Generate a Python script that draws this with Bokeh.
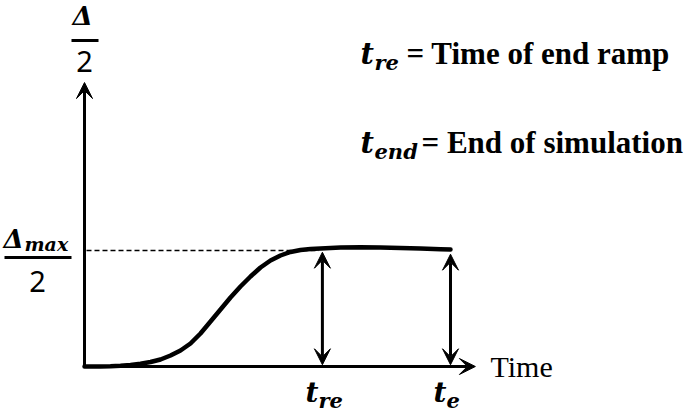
from bokeh.plotting import figure
from bokeh.models import Range1d, Arrow, VeeHead, Label
from bokeh.embed import file_html
from bokeh.resources import INLINE

# ---- data (time normalised so t_e = 1, response normalised so Δmax/2 = 1) ----
curve_t = [0.0, 0.0437, 0.0710, 0.0984, 0.1257, 0.1530, 0.1803, 0.2077, 0.2350,
           0.2623, 0.2896, 0.3169, 0.3443, 0.3716, 0.3989, 0.4262, 0.4536, 0.4809,
           0.5082, 0.5355, 0.5628, 0.5902, 0.6175, 0.6448, 0.6995, 0.7541, 0.8087,
           0.8634, 0.9180, 0.9727, 1.0]
curve_v = [0.0, 0.0, 0.0017, 0.0060, 0.0129, 0.0233, 0.0388, 0.0603, 0.0948,
           0.1379, 0.1983, 0.2845, 0.3879, 0.4914, 0.5948, 0.6897, 0.7759, 0.8534,
           0.9138, 0.9569, 0.9871, 1.0043, 1.0129, 1.0172, 1.0259, 1.0284, 1.0259,
           1.0216, 1.0172, 1.0112, 1.0086]
mark_t = [0.650, 1.0]            # t_re, t_e
mark_top = [1.0, 0.983]          # arrow tops (curve level)
mark_sub = ["re", "e"]
dmax_level = 1.0
x_axis_end = 1.068
y_axis_end = 2.448

# ---- pixel helpers for layout (page pixels -> data) ----
W, H = 694, 413
def X(px):
    return (px - 84) / 366.0
def Y(py):
    return (366 - py) / 116.0

p = figure(width=W, height=H, x_range=Range1d(X(0), X(W)),
           y_range=Range1d(Y(H), Y(0)), x_axis_type=None, y_axis_type=None,
           toolbar_location=None, output_backend="svg", min_border=0,
           outline_line_color=None)
p.grid.visible = False

def head():
    return VeeHead(size=16, fill_color="black", line_color="black", line_width=1)

# axes with arrow heads
p.add_layout(Arrow(end=head(), x_start=0, y_start=0, x_end=x_axis_end, y_end=0,
                   line_width=3, line_color="black"))
p.add_layout(Arrow(end=head(), x_start=0, y_start=0, x_end=0, y_end=y_axis_end,
                   line_width=3, line_color="black"))

# dashed Δmax/2 level
p.line([X(86), mark_t[0] - 0.01], [dmax_level, dmax_level], line_dash="5 3",
       line_width=1.5, line_color="black")

# response curve
p.line(curve_t, curve_v, line_width=4.5, line_color="black", line_join="round",
       line_cap="round")

# double arrows
for t, top in zip(mark_t, mark_top):
    p.add_layout(Arrow(start=head(), end=head(),
                       x_start=t, y_start=0.015, x_end=t, y_end=top - 0.015,
                       line_width=3, line_color="black"))

MATH = "DejaVu Serif"

def lab(px, py, text, size, align="left", font=MATH, style="bold italic"):
    # py is the wanted baseline; compensate the label box offset
    p.add_layout(Label(x=X(px), y=Y(py - 0.37 * size), text=text, text_font=font,
                       text_font_style=style, text_font_size=f"{size}px",
                       text_align=align, text_baseline="alphabetic",
                       text_color="black"))

# y-axis title Δ/2
lab(82, 25, "Δ", 26, align="center")
p.line([X(71), X(98)], [Y(40), Y(40)], line_width=3, line_color="black")
lab(84, 72, "2", 29, align="center", font="Noto Sans", style="normal")

# Δmax/2 tick label
lab(3, 248, "Δ", 26)
lab(24, 251, "max", 19)
p.line([X(4), X(71)], [Y(257), Y(257)], line_width=3, line_color="black")
lab(37, 292, "2", 29, align="center", font="Noto Sans", style="normal")

# bottom labels
for t, sub in zip(mark_t, mark_sub):
    px = 84 + t * 366
    lab(px - 17, 402, "t", 28)
    lab(px - 4, 408, sub, 21)

lab(490, 377, "Time", 30, font="Liberation Serif", style="normal")

# legend texts
lab(360, 64, "t", 29)
lab(374, 70, "re", 21)
lab(406, 64, "= Time of end ramp", 31, font="Liberation Serif", style="bold")
lab(360, 153, "t", 29)
lab(374, 159, "end", 21)
lab(421, 153, "= End of simulation", 31, font="Liberation Serif", style="bold")

open("out.html", "w").write(file_html(p, INLINE))
